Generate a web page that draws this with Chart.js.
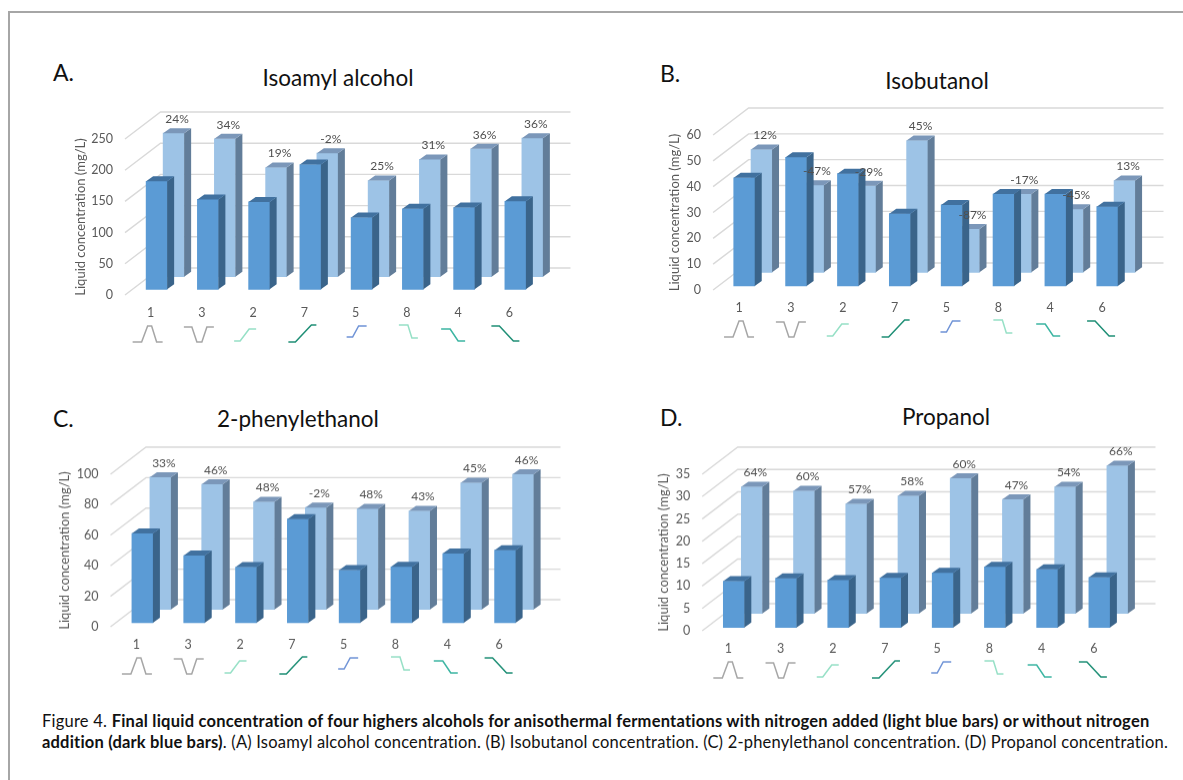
<!DOCTYPE html>
<html>
<head>
<meta charset="utf-8">
<script src="https://cdn.jsdelivr.net/npm/chart.js@4/dist/chart.umd.min.js"></script>
<style>
  html, body { margin: 0; background: #fff; overflow: hidden; }
  body { width: 1183px; height: 780px; position: relative; font-family: Lato, sans-serif; color: #111; }
  #frame { position: absolute; left: 8px; top: 11px; width: 1175px; height: 769px; border-left: 2px solid #a6a6a6; border-top: 2px solid #a6a6a6; box-sizing: border-box; }
  canvas { position: absolute; }
  .letter { position: absolute; font-size: 23px; line-height: 28px; }
  .panelTitle { position: absolute; font-size: 22.5px; line-height: 28px; transform: translateX(-50%); white-space: nowrap; }
  .caption { position: absolute; left: 42px; font-size: 16.5px; letter-spacing: 0.23px; line-height: 20px; white-space: nowrap; }
</style>
</head>
<body>
<div id="frame"></div>
<div class="letter" style="left:53px;top:58px">A.</div>
<div class="letter" style="left:660px;top:59px">B.</div>
<div class="letter" style="left:53px;top:404px">C.</div>
<div class="letter" style="left:660px;top:403px">D.</div>
<div class="panelTitle" style="left:338px;top:64px">Isoamyl alcohol</div>
<div class="panelTitle" style="left:937px;top:67px">Isobutanol</div>
<div class="panelTitle" style="left:298px;top:405px">2-phenylethanol</div>
<div class="panelTitle" style="left:946px;top:403px">Propanol</div>
<canvas id="chartA"></canvas>
<canvas id="chartB"></canvas>
<canvas id="chartC"></canvas>
<canvas id="chartD"></canvas>
<div class="caption" style="top:711px">Figure 4. <b>Final liquid concentration of four highers alcohols for anisothermal fermentations with nitrogen added (light blue bars) or without nitrogen</b></div>
<div class="caption" style="top:732px;letter-spacing:0.19px"><b>addition (dark blue bars)</b>. (A) Isoamyl alcohol concentration. (B) Isobutanol concentration. (C) 2-phenylethanol concentration. (D) Propanol concentration.</div>

<script>
const categories = ["1", "3", "2", "7", "5", "8", "4", "6"];

const isoamylDark = [173, 144, 140, 200, 115, 129, 131, 141];
const isoamylLight = [230, 221, 175, 198, 154, 188, 205, 222];
const isoamylPct = ["24%", "34%", "19%", "-2%", "25%", "31%", "36%", "36%"];

const isobutanolDark = [41.9, 49.8, 43.5, 28, 31.4, 35.6, 35.6, 30.7];
const isobutanolLight = [47.5, 33.7, 33.5, 51, 16.8, 30.3, 24.4, 35.5];
const isobutanolPct = ["12%", "-47%", "-29%", "45%", "-87%", "-17%", "-45%", "13%"];

const phenylDark = [58.5, 44, 36.5, 68, 34.5, 36.7, 45.4, 47.6];
const phenylLight = [86.7, 82, 70.5, 66.8, 66, 64.6, 83, 88.6];
const phenylPct = ["33%", "46%", "48%", "-2%", "48%", "43%", "45%", "46%"];

const propanolDark = [10.35, 11, 10.6, 11.1, 12.2, 13.55, 13, 11.2];
const propanolLight = [28.3, 27.4, 24.5, 26.3, 30.2, 25.5, 28.3, 33];
const propanolPct = ["64%", "60%", "57%", "58%", "60%", "47%", "54%", "66%"];

// temperature profile glyphs under each tick: [dx from tick, dy below axis]
const profileColors = ["#a6a6a6", "#a6a6a6", "#96e0c6", "#1f8f76", "#6f93d6", "#96e0c6", "#3cb5a2", "#1f8f76"];
const profileShapes = [
  [[-18, 47], [-9, 47], [-3, 31], [1, 31], [6, 47], [12, 47]],
  [[-18, 32], [-10, 32], [-5, 47], [0, 47], [5, 32], [12, 32]],
  [[-19, 46], [-13, 46], [-4, 34], [3, 34]],
  [[-16, 47], [-9, 47], [7, 30], [12, 30]],
  [[-9, 42], [-3, 42], [3, 31], [11, 31]],
  [[-8, 30], [1, 30], [5, 43], [11, 43]],
  [[-17, 34], [-8, 34], [0, 46], [7, 46]],
  [[-18, 31], [-10, 31], [4, 46], [10, 46]],
];

const WALL_DX = 35.5, WALL_DY = 27;
const SIDE_DX = 7, SIDE_DY = 5;
const FRONT = { bar: "#5b9bd5", side: "#3a648a", top: "#41719f" };
const BACK = { bar: "#9dc3e6", side: "#627d99", top: "#7b97b9" };

const bars3d = {
  id: "bars3d",
  beforeDatasetsDraw(chart) {
    // back wall and side wall lines
    const { ctx, chartArea, scales } = chart;
    ctx.save();
    ctx.strokeStyle = "#d9d9d9";
    ctx.lineWidth = 1.4;
    scales.y.ticks.forEach((t) => {
      const y = scales.y.getPixelForValue(t.value);
      ctx.beginPath();
      ctx.moveTo(chartArea.left, y);
      ctx.lineTo(chartArea.left + WALL_DX, y - WALL_DY);
      ctx.lineTo(chartArea.right + WALL_DX, y - WALL_DY);
      ctx.stroke();
    });
    ctx.restore();
  },
  beforeDatasetDraw(chart, args) {
    const s = chart.data.datasets[args.index].shift;
    chart.ctx.save();
    chart.ctx.translate(s[0], s[1]);
  },
  afterDatasetDraw(chart, args) {
    const ctx = chart.ctx;
    const colors = chart.data.datasets[args.index].colors;
    args.meta.data.forEach((bar) => {
      const { x, y, base, width } = bar.getProps(["x", "y", "base", "width"]);
      const r = x + width / 2;
      const l = x - width / 2;
      ctx.fillStyle = colors.side;
      ctx.beginPath();
      ctx.moveTo(r, base);
      ctx.lineTo(r + SIDE_DX, base - SIDE_DY);
      ctx.lineTo(r + SIDE_DX, y - SIDE_DY);
      ctx.lineTo(r, y);
      ctx.closePath();
      ctx.fill();
      ctx.fillStyle = colors.top;
      ctx.beginPath();
      ctx.moveTo(l, y);
      ctx.lineTo(l + SIDE_DX, y - SIDE_DY);
      ctx.lineTo(r + SIDE_DX, y - SIDE_DY);
      ctx.lineTo(r, y);
      ctx.closePath();
      ctx.fill();
    });
    ctx.restore();
  },
  afterDatasetsDraw(chart) {
    const { ctx, scales } = chart;
    const light = chart.data.datasets[1];
    const meta = chart.getDatasetMeta(1);
    ctx.save();
    ctx.font = "12px Lato";
    ctx.fillStyle = "#505050";
    ctx.textAlign = "center";
    ctx.textBaseline = "middle";
    meta.data.forEach((bar, i) => {
      ctx.fillText(light.pct[i], bar.x + light.shift[0] + 3.5, bar.y + light.shift[1] - 14);
    });
    // profile glyphs
    ctx.lineWidth = 1.5;
    profileShapes.forEach((shape, i) => {
      const tx = scales.x.getPixelForTick(i) + chart.options.iconDx;
      const by = chart.chartArea.bottom;
      ctx.strokeStyle = profileColors[i];
      ctx.beginPath();
      shape.forEach((p, k) => {
        if (k === 0) ctx.moveTo(tx + p[0], by + p[1]);
        else ctx.lineTo(tx + p[0], by + p[1]);
      });
      ctx.stroke();
    });
    ctx.restore();
  },
};

// page geometry of one panel: plot box edges, axis title x, bar row offsets
function makePanel(id, dark, light, pct, yMax, yStep, box) {
  const canvas = document.getElementById(id);
  const pageLeft = box.titleX - 10;
  const pageTop = box.top - 55;
  const w = box.right + 50 - pageLeft;
  const h = box.bottom - box.top + 55 + 60;
  canvas.width = w;
  canvas.height = h;
  canvas.style.left = pageLeft + "px";
  canvas.style.top = pageTop + "px";
  canvas.style.width = w + "px";
  canvas.style.height = h + "px";

  new Chart(canvas.getContext("2d"), {
    type: "bar",
    data: {
      labels: categories,
      datasets: [
        { data: dark, backgroundColor: FRONT.bar, colors: FRONT, shift: box.darkShift, pct: pct, clip: false },
        { data: light, backgroundColor: BACK.bar, colors: BACK, shift: box.lightShift, pct: pct, clip: false },
      ],
    },
    options: {
      responsive: false,
      animation: false,
      iconDx: box.iconDx,
      layout: { padding: { left: 0, right: 50, top: 55, bottom: 0 } },
      datasets: { bar: { grouped: false, barThickness: 21 } },
      plugins: { legend: { display: false }, tooltip: { enabled: false } },
      scales: {
        x: {
          grid: { display: false, drawTicks: false },
          border: { display: false },
          ticks: { color: "#595959", font: { family: "Lato", size: 12.5 }, padding: 10, maxRotation: 0 },
          afterFit(scale) { scale.height = 60; },
        },
        y: {
          min: 0,
          max: yMax,
          grid: { display: false, drawTicks: false },
          border: { display: false },
          ticks: { stepSize: yStep, color: "#595959", font: { family: "Lato", size: 12.5 }, padding: 12 },
          title: {
            display: true,
            text: "Liquid concentration (mg/L)",
            color: "#595959",
            font: { family: "Lato", size: 13 },
            padding: { top: 3, bottom: 0 },
          },
          afterFit(scale) { scale.width = box.left - pageLeft; },
        },
      },
    },
    plugins: [bars3d],
  });
}

makePanel("chartA", isoamylDark, isoamylLight, isoamylPct, 250, 50, {
  titleX: 80, left: 125, right: 535, top: 138.5, bottom: 295, iconDx: 0,
  darkShift: [6, -5.7], lightShift: [23, -18.3],
});
makePanel("chartB", isobutanolDark, isobutanolLight, isobutanolPct, 60, 10, {
  titleX: 673.5, left: 712.6, right: 1127.6, top: 135, bottom: 290, iconDx: 3,
  darkShift: [5.2, -4], lightShift: [22.5, -17.7],
});
makePanel("chartC", phenylDark, phenylLight, phenylPct, 100, 20, {
  titleX: 63.5, left: 110, right: 525, top: 474, bottom: 626.7, iconDx: 3.5,
  darkShift: [6, -4], lightShift: [24, -17.3],
});
makePanel("chartD", propanolDark, propanolLight, propanolPct, 35, 5, {
  titleX: 662.5, left: 701.7, right: 1120, top: 474, bottom: 630.7, iconDx: 3,
  darkShift: [5.5, -3.3], lightShift: [23.5, -17.3],
});
</script>
</body>
</html>
